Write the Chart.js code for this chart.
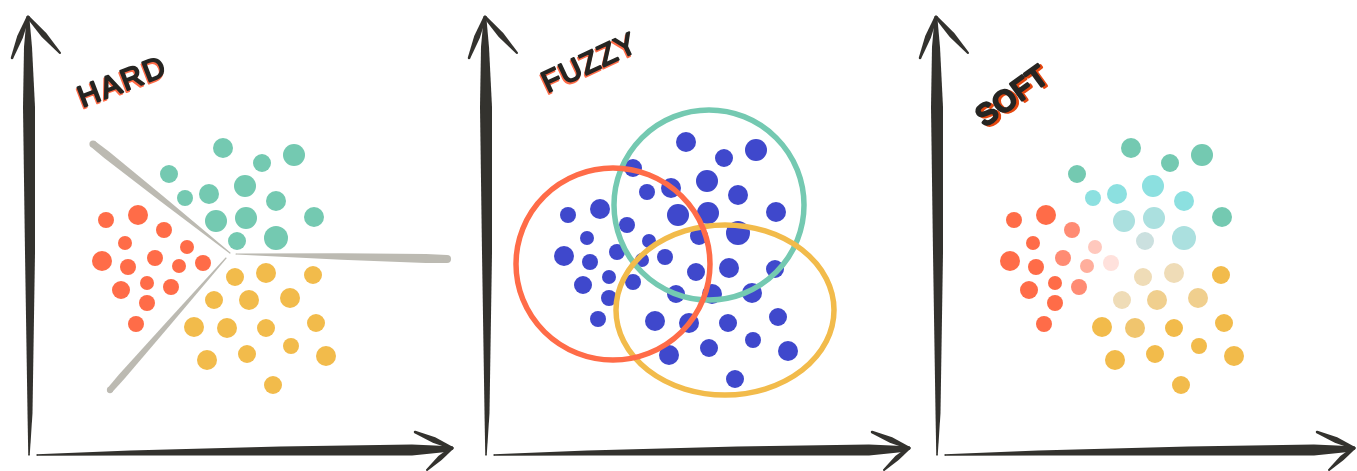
<!DOCTYPE html>
<html><head><meta charset="utf-8">
<script src="https://cdn.jsdelivr.net/npm/chart.js@4/dist/chart.umd.min.js"></script>
<style>
html,body{margin:0;padding:0;background:#fff;overflow:hidden;width:1357px;height:471px;position:relative}
canvas{position:absolute;top:0}
</style></head><body>
<canvas id="c1" width="455" height="471" style="left:0px"></canvas>
<canvas id="c2" width="455" height="471" style="left:457px"></canvas>
<canvas id="c3" width="449" height="471" style="left:908px"></canvas>
<script>
// ---------- DATA (units measured from the axes origin) ----------
const panelTitles = ["HARD", "FUZZY", "SOFT"];

// Shared cluster layout (HARD and SOFT panels)
const tealX   = [193,232,264,139,155,179,215,246,186,216,284,207,246];
const tealY   = [305,290,298,279,255,259,267,252,232,235,236,212,215];
const redX    = [76,108,134,95,157,72,98,125,149,173,117,141,91,117,106];
const redY    = [233,238,223,210,206,192,186,195,187,190,170,166,163,150,129];
const yellowX = [205,236,283,184,219,260,164,197,236,286,261,177,217,296,243];
const yellowY = [176,180,178,153,153,155,126,125,125,130,107,93,99,97,68];

// FUZZY panel points
const fuzzyX = [199,237,269,146,160,184,220,251,191,221,289,212,251,
                81,113,140,100,162,77,103,130,155,178,122,146,96,122,111,
                209,242,288,189,225,265,168,202,241,291,266,182,222,301,248];
const fuzzyY = [311,295,303,285,261,265,272,258,238,240,241,217,220,
                238,244,228,215,212,197,191,201,193,196,176,171,168,155,134,
                181,185,184,159,159,160,132,130,130,136,113,98,105,102,74];

// HARD decision boundaries: inner and outer ends
const boundaryInnerX = [200,206,196];
const boundaryInnerY = [200,199,195];
const boundaryOuterX = [63,417,80];
const boundaryOuterY = [309,194,63];

// FUZZY cluster outlines: centre and radii
const clusterCX = [222,238,126];
const clusterCY = [248,143,189];
const clusterRX = [95,109,97];
const clusterRY = [95,85,96];

// ---------- STYLES ----------
const tealR   = [10,9,11,9,8,10,11,10,11,11,10,9,12];
const redR    = [8,10,8,7,7,10,8,8,7,8,7,8,9,8,8];
const yellowR = [9,10,9,9,10,10,10,10,9,9,8,10,9,10,9];
const fuzzyR  = [10,9,11,9,8,10,11,10,11,11,10,9,12,
                 8,10,8,7,7,10,8,8,7,8,7,8,9,8,8,
                 9,10,9,9,10,10,10,10,9,9,8,10,9,10,9];
const TEAL="#74c9b1", RED="#ff6c48", YELLOW="#f2bb4b", BLUE="#3f48cc", GREY="#bcbab2", INK="#33322e";
const softTealColors = [TEAL,TEAL,TEAL,TEAL,"#8ce0e0","#8ce0e0","#8ce0e0","#8ce0e0","#abe0df","#abe0df",TEAL,"#cbe0df","#abe0df"];
const softRedColors  = [RED,RED,"#ff8b73",RED,"#ffc8bd",RED,RED,"#ff8b73","#ffae9c","#ffe1dc",RED,"#ff8b73",RED,RED,RED];
const softYellowColors = ["#efdcb7","#efdcb7",YELLOW,"#efdcb7","#f0cf8e","#f0cf8e",YELLOW,"#f0c56e",YELLOW,YELLOW,YELLOW,YELLOW,YELLOW,YELLOW,YELLOW];
const circleColors = [TEAL,YELLOW,RED];

const pts = (xs,ys)=>xs.map((v,i)=>({x:v,y:ys[i]}));

function taper(ctx, p, color){
  const L=[],R=[];
  for(let i=0;i<p.length;i++){
    const a=p[Math.max(0,i-1)], b=p[Math.min(p.length-1,i+1)];
    const dx=b[0]-a[0], dy=b[1]-a[1], len=Math.hypot(dx,dy)||1;
    const nx=-dy/len, ny=dx/len, h=p[i][2]/2;
    L.push([p[i][0]+nx*h,p[i][1]+ny*h]); R.push([p[i][0]-nx*h,p[i][1]-ny*h]);
  }
  ctx.fillStyle=color;
  ctx.beginPath(); ctx.moveTo(L[0][0],L[0][1]);
  for(const q of L) ctx.lineTo(q[0],q[1]);
  for(let i=R.length-1;i>=0;i--) ctx.lineTo(R[i][0],R[i][1]);
  ctx.closePath(); ctx.fill();
  for(const q of [p[0],p[p.length-1]]){ctx.beginPath();ctx.arc(q[0],q[1],q[2]/2,0,Math.PI*2);ctx.fill();}
}

const sketchAxes = {id:'sketchAxes', beforeDatasetsDraw(chart){
  const {ctx, chartArea:a, scales:{x,y}} = chart;
  const ox=x.getPixelForValue(0), oy=y.getPixelForValue(0), top=a.top, right=a.right;
  ctx.save();
  taper(ctx,[[ox-1,oy+2,1.5],[ox,oy-40,5],[ox,oy-200,10],[ox-1,top+90,12],[ox-2,top+30,8],[ox-2,top+2,3]],INK);
  taper(ctx,[[ox-2,top,3],[ox-10,top+20,6],[ox-18,top+41,2.5]],INK);
  taper(ctx,[[ox-2,top,3],[ox+14,top+18,6],[ox+30,top+36,2]],INK);
  taper(ctx,[[ox+7,oy+2,1.5],[ox+100,oy,5],[ox+250,oy-2,9],[right-40,oy-3,11],[right-6,oy-4,6],[right,oy-5,3]],INK);
  taper(ctx,[[right,oy-5,3],[right-18,oy-13,6],[right-37,oy-21,2.5]],INK);
  taper(ctx,[[right,oy-5,3],[right-12,oy+5,5],[right-25,oy+17,2]],INK);
  ctx.restore();
}};

const sketchTitle = {id:'sketchTitle', afterDraw(chart, args, o){
  if(!o || !o.text) return;
  const ctx=chart.ctx; ctx.save();
  ctx.translate(o.x,o.y); ctx.rotate(o.angle*Math.PI/180);
  ctx.font = o.size+'px "Liberation Sans"';
  ctx.letterSpacing = o.spacing+'px';
  ctx.textAlign='center'; ctx.textBaseline='middle'; ctx.lineJoin='round'; ctx.lineCap='round';
  ctx.fillStyle=ctx.strokeStyle=o.shadow; ctx.lineWidth=o.lw;
  ctx.fillText(o.text,o.dx,o.dy); ctx.strokeText(o.text,o.dx,o.dy);
  ctx.fillStyle=ctx.strokeStyle='#262522';
  ctx.fillText(o.text,0,0); ctx.strokeText(o.text,0,0);
  ctx.restore();
}};

const boundaries = {id:'boundaries', beforeDatasetsDraw(chart, args, o){
  if(!o || !o.show) return;
  const {ctx, scales:{x,y}} = chart; ctx.save();
  const w=[8,9,7];
  boundaryInnerX.forEach((v,i)=>{
    const ix=x.getPixelForValue(v), iy=y.getPixelForValue(boundaryInnerY[i]);
    const ex=x.getPixelForValue(boundaryOuterX[i]), ey=y.getPixelForValue(boundaryOuterY[i]);
    taper(ctx,[[ix,iy,1.2],[ix+(ex-ix)*0.5,iy+(ey-iy)*0.5,w[i]*0.7],[ix+(ex-ix)*0.9,iy+(ey-iy)*0.9,w[i]],[ex,ey,w[i]*0.9]],GREY);
  });
  ctx.restore();
}};

const ellipses = {id:'ellipses', afterDatasetsDraw(chart, args, o){
  if(!o || !o.show) return;
  const {ctx, scales:{x,y}} = chart; ctx.save();
  ctx.lineWidth=5.5;
  clusterCX.forEach((cx,i)=>{
    const px=x.getPixelForValue(cx), py=y.getPixelForValue(clusterCY[i]);
    const rx=x.getPixelForValue(cx+clusterRX[i])-px, ry=py-y.getPixelForValue(clusterCY[i]+clusterRY[i]);
    ctx.strokeStyle=circleColors[i]; ctx.beginPath(); ctx.ellipse(px,py,rx,ry,0,0,Math.PI*2); ctx.stroke();
  });
  ctx.restore();
}};

function makeChart(id, datasets, extra){
  const cv=document.getElementById(id);
  const W=cv.width;
  return new Chart(cv,{
    type:'scatter',
    data:{datasets},
    plugins:[sketchAxes,sketchTitle,boundaries,ellipses],
    options:{
      responsive:false, animation:false, devicePixelRatio:1, events:[],
      layout:{autoPadding:false,padding:{left:30,right:3,top:17,bottom:18}},
      scales:{
        x:{type:'linear',min:0,max:W-33,display:false},
        y:{type:'linear',min:0,max:436,display:false}
      },
      plugins:Object.assign({legend:{display:false},tooltip:{enabled:false}},extra)
    }
  });
}
const ds=(xs,ys,r,c)=>({data:pts(xs,ys),pointRadius:r,pointBackgroundColor:c,pointBorderWidth:0,pointBorderColor:'rgba(0,0,0,0)',showLine:false,clip:false});

makeChart('c1',[ds(tealX,tealY,tealR,TEAL),ds(redX,redY,redR,RED),ds(yellowX,yellowY,yellowR,YELLOW)],
  {sketchTitle:{text:panelTitles[0],x:123,y:83,angle:-21,size:30,spacing:2,lw:1.8,shadow:RED,dx:-1.5,dy:1.5},
   boundaries:{show:true}});
makeChart('c2',[ds(fuzzyX,fuzzyY,fuzzyR,BLUE)],
  {sketchTitle:{text:panelTitles[1],x:133,y:64,angle:-25,size:30,spacing:1,lw:1.8,shadow:RED,dx:-1.5,dy:1.5},
   ellipses:{show:true}});
makeChart('c3',[ds(tealX,tealY,tealR,softTealColors),ds(redX,redY,redR,softRedColors),ds(yellowX,yellowY,yellowR,softYellowColors)],
  {sketchTitle:{text:panelTitles[2],x:105,y:97,angle:-36,size:29,spacing:1,lw:3,shadow:"#e5470f",dx:1.5,dy:2.5}});
</script>
</body></html>
